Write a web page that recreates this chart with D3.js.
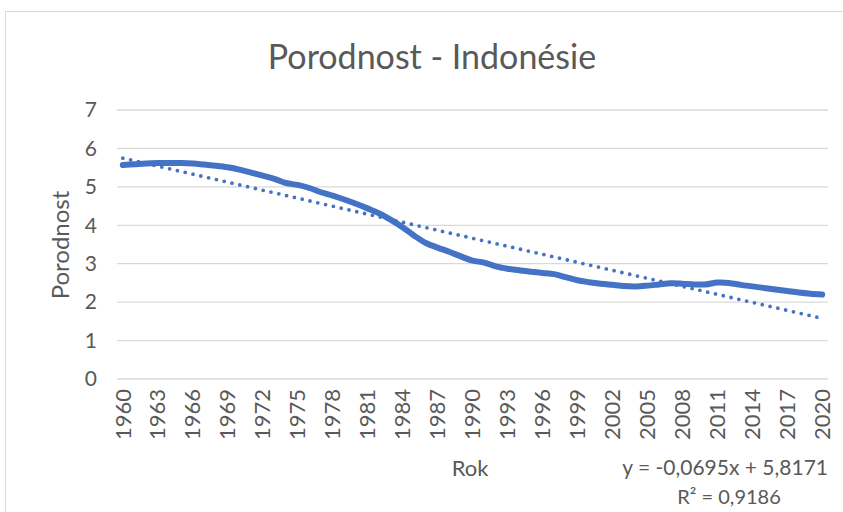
<!DOCTYPE html>
<html>
<head>
<meta charset="utf-8">
<script src="https://cdn.jsdelivr.net/npm/d3@7"></script>
<style>
  body { margin: 0; background: #fff; }
  text { font-family: Lato, "Open Sans", sans-serif; fill: #595959; }
</style>
</head>
<body>
<script>
// categories (years) and fertility values
var years = d3.range(1960, 2021);
var fertility = [
  5.57, 5.59, 5.61, 5.62, 5.62, 5.62, 5.61, 5.58, 5.55, 5.51,
  5.45, 5.37, 5.29, 5.21, 5.10, 5.05, 4.97, 4.86, 4.77, 4.67,
  4.56, 4.44, 4.31, 4.14, 3.95, 3.73, 3.54, 3.42, 3.31, 3.19,
  3.08, 3.03, 2.93, 2.87, 2.83, 2.79, 2.76, 2.73, 2.65, 2.57,
  2.52, 2.48, 2.45, 2.42, 2.41, 2.43, 2.46, 2.49, 2.48, 2.46,
  2.46, 2.51, 2.50, 2.45, 2.41, 2.37, 2.33, 2.29, 2.25, 2.22,
  2.20
];
var yTicks = [0, 1, 2, 3, 4, 5, 6, 7];
// linear trend from the label on the chart
var trendSlope = -0.0695, trendIntercept = 5.8171;
var equationLabel = "y = -0,0695x + 5,8171";
var r2Label = "R² = 0,9186";

(function() {
var w = 843, h = 512;
var plotLeft = 117, plotRight = 828, plotTop = 110, plotBottom = 379;

var svg = d3.select("body").append("svg")
    .attr("width", w)
    .attr("height", h);

svg.append("rect")
    .attr("x", 5.5).attr("y", 11.5)
    .attr("width", 900).attr("height", 600)
    .attr("fill", "#fff")
    .attr("stroke", "#d9d9d9");

var x = d3.scaleBand().domain(years).range([plotLeft, plotRight]).padding(0);
var y = d3.scaleLinear().domain([0, 7]).range([plotBottom, plotTop]);
var cx = function(yr) { return x(yr) + x.bandwidth() / 2; };

// gridlines
svg.append("g")
  .selectAll("line")
  .data(yTicks)
  .join("line")
    .attr("x1", plotLeft).attr("x2", plotRight)
    .attr("y1", function(d) { return y(d); })
    .attr("y2", function(d) { return y(d); })
    .attr("stroke", "#d9d9d9")
    .attr("stroke-width", 1.3);

// y tick labels
svg.append("g")
  .selectAll("text")
  .data(yTicks)
  .join("text")
    .attr("x", 97)
    .attr("y", function(d) { return y(d); })
    .attr("dy", "0.35em")
    .attr("text-anchor", "end")
    .style("font-size", "21px")
    .text(function(d) { return d; });

// x tick labels, every third year
svg.append("g")
  .selectAll("text")
  .data(years.filter(function(d, i) { return i % 3 === 0; }))
  .join("text")
    .attr("transform", function(d) { return "translate(" + cx(d) + ",389)rotate(-90)"; })
    .attr("dy", "0.35em")
    .attr("text-anchor", "end")
    .style("font-size", "22px")
    .text(function(d) { return d; });

// data line
var line = d3.line()
    .x(function(d, i) { return cx(years[i]); })
    .y(function(d) { return y(d); })
    .curve(d3.curveCatmullRom);

svg.append("path")
    .datum(fertility)
    .attr("d", line)
    .attr("fill", "none")
    .attr("stroke", "#4472c4")
    .attr("stroke-width", 6)
    .attr("stroke-linecap", "round")
    .attr("stroke-linejoin", "round");

// trend line (dotted)
var first = years[0], last = years[years.length - 1];
svg.append("line")
    .attr("x1", cx(first)).attr("y1", y(trendSlope * 1 + trendIntercept))
    .attr("x2", cx(last)).attr("y2", y(trendSlope * years.length + trendIntercept))
    .attr("stroke", "#4472c4")
    .attr("stroke-width", 3.8)
    .attr("stroke-linecap", "round")
    .attr("stroke-dasharray", "0,8");

// titles
svg.append("text")
    .attr("x", 432).attr("y", 57)
    .attr("dy", "0.35em")
    .attr("text-anchor", "middle")
    .style("font-size", "34px")
    .text("Porodnost - Indonésie");

svg.append("text")
    .attr("transform", "translate(61,245)rotate(-90)")
    .attr("dy", "0.35em")
    .attr("text-anchor", "middle")
    .style("font-size", "24px")
    .text("Porodnost");

svg.append("text")
    .attr("x", 470).attr("y", 468)
    .attr("dy", "0.35em")
    .attr("text-anchor", "middle")
    .style("font-size", "22px")
    .text("Rok");

svg.append("text")
    .attr("x", 828).attr("y", 468)
    .attr("dy", "0.35em")
    .attr("text-anchor", "end")
    .style("font-size", "21px")
    .text(equationLabel);

svg.append("text")
    .attr("x", 729).attr("y", 497)
    .attr("dy", "0.35em")
    .attr("text-anchor", "middle")
    .style("font-size", "20px")
    .text(r2Label);
})();
</script>
</body>
</html>
